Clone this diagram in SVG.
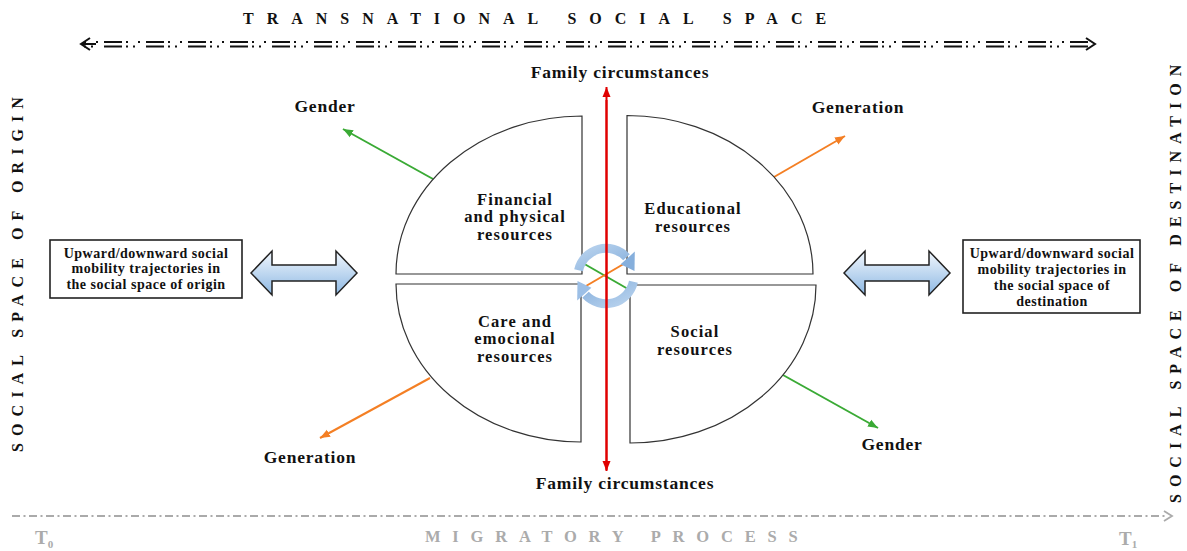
<svg xmlns="http://www.w3.org/2000/svg" width="1187" height="551" viewBox="0 0 1187 551">
<style>
.t{font-family:"Liberation Serif","Times New Roman",serif;font-weight:bold;fill:#111;}
.lbl{font-size:17.5px;letter-spacing:0.8px;text-anchor:middle;}
.q{font-size:16.5px;letter-spacing:1.1px;text-anchor:middle;}
.box{font-size:14px;letter-spacing:0.5px;text-anchor:middle;}
.quad{fill:#fff;stroke:#333;stroke-width:1.2;}
.grey{font-family:"Liberation Serif","Times New Roman",serif;font-weight:bold;fill:#ababab;}
.rect{fill:#fff;stroke:#222;stroke-width:1.6;}
.blk{fill:url(#bg);stroke:#222;stroke-width:1.5;}
.gr{stroke:#3aaa35;stroke-width:2;fill:none;}
.or{stroke:#f47f24;stroke-width:2;fill:none;}
.cyc{fill:none;stroke:url(#cg);stroke-width:9;}
</style>
<defs>
<linearGradient id="bg" x1="0" y1="0" x2="0" y2="1">
<stop offset="0" stop-color="#f2f7fd"/><stop offset="1" stop-color="#8db8e3"/>
</linearGradient>
<linearGradient id="cg" x1="0" y1="0" x2="1" y2="1">
<stop offset="0" stop-color="#b9d3ee"/><stop offset="1" stop-color="#86afdc"/>
</linearGradient>
<marker id="mr" markerUnits="userSpaceOnUse" markerWidth="12" markerHeight="12" refX="10" refY="5" orient="auto"><path d="M0,1 L10,5 L0,9 Z" fill="#e00000"/></marker>
<marker id="mg" markerUnits="userSpaceOnUse" markerWidth="12" markerHeight="12" refX="10" refY="5" orient="auto"><path d="M0,1 L10,5 L0,9 Z" fill="#3aaa35"/></marker>
<marker id="mo" markerUnits="userSpaceOnUse" markerWidth="12" markerHeight="12" refX="10" refY="5" orient="auto"><path d="M0,1 L10,5 L0,9 Z" fill="#f47f24"/></marker>
</defs>
<rect width="1187" height="551" fill="#fff"/>

<g id="title">
<text class="t" x="243" y="24" font-size="16" letter-spacing="13">TRANSNATIONAL SOCIAL SPACE</text>
</g>

<g id="left-label">
<text class="t" transform="translate(23,452) rotate(-90)" font-size="16" letter-spacing="7.1">SOCIAL SPACE OF ORIGIN</text>
</g>
<g id="right-label">
<text class="t" transform="translate(1181,503) rotate(-90)" font-size="16" letter-spacing="7">SOCIAL SPACE OF DESTINATION</text>
</g>

<g id="connectors">
<line x1="84" y1="42" x2="1092" y2="42" stroke="#111" stroke-width="2" stroke-dasharray="2 10 2 6 18 4"/>
<line x1="84" y1="46.5" x2="1092" y2="46.5" stroke="#111" stroke-width="2" stroke-dasharray="2 5 2 11 18 4"/>
<path d="M90,38 L81,44 L90,50 M81,44 L96,44" fill="none" stroke="#111" stroke-width="2"/>
<path d="M1086,38 L1095,44 L1086,50" fill="none" stroke="#111" stroke-width="2"/>
<line x1="12" y1="516" x2="1168" y2="516" stroke="#aaa" stroke-width="1.8" stroke-dasharray="8 3.5 2 3.5"/>
<path d="M1164,511 L1172,516 L1164,521" fill="none" stroke="#aaa" stroke-width="1.8"/>
<line class="gr" x1="433" y1="179" x2="343" y2="129" marker-end="url(#mg)"/>
<line class="gr" x1="783" y1="375" x2="878" y2="428" marker-end="url(#mg)"/>
<line class="or" x1="774" y1="177" x2="845" y2="136" marker-end="url(#mo)"/>
<line class="or" x1="430" y1="378" x2="320" y2="438" marker-end="url(#mo)"/>
</g>

<g id="quadrant-financial">
<path class="quad" d="M396,274 A186,158 0 0 1 582,116 L582,274 Z"/>
<text class="t q" x="515" y="205">Financial</text>
<text class="t q" x="515" y="222">and physical</text>
<text class="t q" x="515" y="240">resources</text>
</g>
<g id="quadrant-educational">
<path class="quad" d="M627,115.5 A186,158.5 0 0 1 813,274 L627,274 Z"/>
<text class="t q" x="693" y="214">Educational</text>
<text class="t q" x="693" y="232">resources</text>
</g>
<g id="quadrant-care">
<path class="quad" d="M396,284 L581,284 L581,442 A185,158 0 0 1 396,284 Z"/>
<text class="t q" x="515" y="327">Care and</text>
<text class="t q" x="515" y="344">emocional</text>
<text class="t q" x="515" y="362">resources</text>
</g>
<g id="quadrant-social">
<path class="quad" d="M630,285 L816,285 A186,158 0 0 1 630,443 Z"/>
<text class="t q" x="695" y="337">Social</text>
<text class="t q" x="695" y="355">resources</text>
</g>

<g id="center-cross">
<line x1="581" y1="262" x2="628" y2="289" stroke="#3aaa35" stroke-width="2"/>
<line x1="586" y1="286" x2="627" y2="262" stroke="#f47f24" stroke-width="2"/>
</g>

<g id="cycle-arrows">
<path class="cyc" d="M578.6,270.2 A28,28 0 0 1 626.5,257.3"/>
<path d="M620.6,264.2 L634.8,251.6 L634.5,271 Z" fill="#86afdc"/>
<g transform="rotate(180 606 276)">
<path class="cyc" d="M578.6,270.2 A28,28 0 0 1 626.5,257.3"/>
<path d="M620.6,264.2 L634.8,251.6 L634.5,271 Z" fill="#9cbfe6"/>
</g>
</g>

<g id="family-axis">
<line x1="606.5" y1="470" x2="606.5" y2="87" stroke="#e00000" stroke-width="2" marker-end="url(#mr)"/>
<line x1="606.5" y1="100" x2="606.5" y2="471" stroke="#e00000" stroke-width="2" marker-end="url(#mr)"/>
</g>

<g id="labels">
<text class="t lbl" x="620" y="78">Family circumstances</text>
<text class="t lbl" x="625" y="489">Family circumstances</text>
<text class="t lbl" x="325" y="112">Gender</text>
<text class="t lbl" x="858" y="113">Generation</text>
<text class="t lbl" x="310" y="463">Generation</text>
<text class="t lbl" x="892" y="450">Gender</text>
</g>

<g id="origin-box">
<rect class="rect" x="50" y="240" width="192" height="58"/>
<text class="t box" x="146" y="258">Upward/downward social</text>
<text class="t box" x="146" y="273">mobility trajectories in</text>
<text class="t box" x="146" y="289">the social space of origin</text>
</g>
<g id="origin-arrow">
<path class="blk" d="M251,273 L272,251 L272,265 L336,265 L336,251 L357,273 L336,295 L336,281 L272,281 L272,295 Z"/>
</g>
<g id="destination-arrow">
<path class="blk" d="M844,273 L865,251 L865,265 L929,265 L929,251 L950,273 L929,295 L929,281 L865,281 L865,295 Z"/>
</g>
<g id="destination-box">
<rect class="rect" x="963" y="240" width="177" height="73"/>
<text class="t box" x="1052" y="258">Upward/downward social</text>
<text class="t box" x="1052" y="274">mobility trajectories in</text>
<text class="t box" x="1052" y="290">the social space of</text>
<text class="t box" x="1052" y="306">destination</text>
</g>

<g id="migratory">
<text class="grey" x="425" y="542" font-size="16.5" letter-spacing="11.8">MIGRATORY PROCESS</text>
<text class="grey" x="35" y="544" font-size="19">T<tspan font-size="11" dy="4">0</tspan></text>
<text class="grey" x="1119" y="545" font-size="19">T<tspan font-size="11" dy="3">1</tspan></text>
</g>
</svg>
